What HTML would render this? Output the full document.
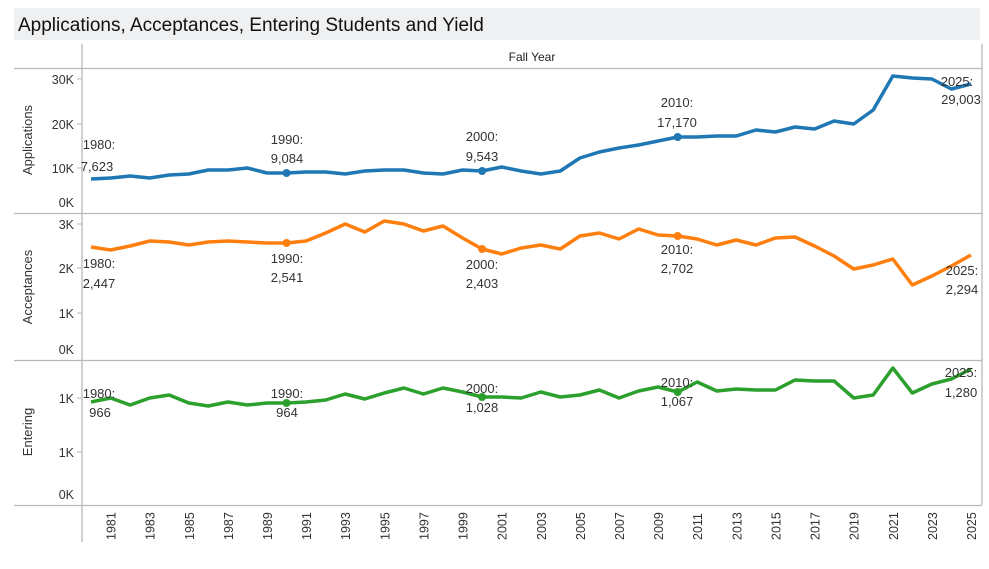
<!DOCTYPE html>
<html><head><meta charset="utf-8"><style>
body{margin:0;background:#fff;font-family:"Liberation Sans",sans-serif}
</style></head><body>
<svg id="s" width="989" height="564" xmlns="http://www.w3.org/2000/svg" font-family="Liberation Sans, sans-serif">
<rect x="14" y="8" width="966" height="32" fill="#eef0f2"/>
<text x="18" y="31" font-size="19" fill="#111">Applications, Acceptances, Entering Students and Yield</text>
<text x="532" y="61" font-size="12" fill="#222" text-anchor="middle">Fall Year</text>
<g stroke="#b8b8b8" stroke-width="1.3" fill="none">
<line x1="82" y1="44" x2="82" y2="542"/>
<line x1="982" y1="44" x2="982" y2="505"/>
<line x1="14" y1="68.5" x2="982" y2="68.5"/>
<line x1="14" y1="213.5" x2="982" y2="213.5"/>
<line x1="14" y1="360.5" x2="982" y2="360.5"/>
<line x1="14" y1="505.5" x2="982" y2="505.5"/>
</g>
<g font-size="12.5" fill="#333" text-anchor="end">
<text x="74" y="84">30K</text><text x="74" y="129">20K</text><text x="74" y="173">10K</text><text x="74" y="207">0K</text>
<text x="74" y="229">3K</text><text x="74" y="273">2K</text><text x="74" y="318">1K</text><text x="74" y="354">0K</text>
<text x="74" y="403">1K</text><text x="74" y="457">1K</text><text x="74" y="499">0K</text>
</g>
<g stroke="#b8b8b8" stroke-width="1">
<line x1="77" y1="79" x2="82" y2="79"/><line x1="77" y1="124" x2="82" y2="124"/><line x1="77" y1="168" x2="82" y2="168"/>
<line x1="77" y1="224" x2="82" y2="224"/><line x1="77" y1="268" x2="82" y2="268"/><line x1="77" y1="313" x2="82" y2="313"/>
<line x1="77" y1="398" x2="82" y2="398"/><line x1="77" y1="452" x2="82" y2="452"/>
</g>
<g font-size="13" fill="#333" text-anchor="middle">
<text transform="translate(32,140) rotate(-90)">Applications</text>
<text transform="translate(32,287) rotate(-90)">Acceptances</text>
<text transform="translate(32,432) rotate(-90)">Entering</text>
</g>
<g id="series"></g>
<g id="xt" font-size="12.5" fill="#333"></g>
<g font-size="13" fill="#333" text-anchor="middle">
<text x="99" y="149">1980:</text><text x="97" y="171">7,623</text>
<text x="287" y="144">1990:</text><text x="287" y="163">9,084</text>
<text x="482" y="141">2000:</text><text x="482" y="161">9,543</text>
<text x="677" y="107">2010:</text><text x="677" y="127">17,170</text>
<text x="957" y="86">2025:</text><text x="961" y="104">29,003</text>
<text x="99" y="268">1980:</text><text x="99" y="288">2,447</text>
<text x="287" y="263">1990:</text><text x="287" y="282">2,541</text>
<text x="482" y="269">2000:</text><text x="482" y="288">2,403</text>
<text x="677" y="254">2010:</text><text x="677" y="273">2,702</text>
<text x="962" y="275">2025:</text><text x="962" y="294">2,294</text>
<text x="99" y="398">1980:</text><text x="100" y="417">966</text>
<text x="287" y="398">1990:</text><text x="287" y="417">964</text>
<text x="482" y="393">2000:</text><text x="482" y="412">1,028</text>
<text x="677" y="387">2010:</text><text x="677" y="406">1,067</text>
<text x="961" y="377">2025:</text><text x="961" y="397">1,280</text>
</g>
</svg>
<script>
const A=[179,178,176,178,175,174,170,170,168,173,173,172,172,174,171,170,170,173,174,170,171,167,171,174,171,158,152,148,145,141,137,137,136,136,130,132,127,129,121,124,110,76,78,79,89,84];
const B=[247,250,246,241,242,245,242,241,242,243,243,241,233,224,232,221,224,231,226,238,249,254,248,245,249,236,233,239,229,235,236,239,245,240,245,238,237,246,256,269,265,259,285,276,266,255];
const C=[402,398,405,398,395,403,406,402,405,403,403,402,400,394,399,393,388,394,388,392,397,397,398,392,397,395,390,398,391,387,392,382,391,389,390,390,380,381,381,398,395,368,393,384,379,369];
const X=i=>91+i*880/45;
const ns="http://www.w3.org/2000/svg";
const g=document.getElementById('series');
[[A,'#1f77b4'],[B,'#ff7f0e'],[C,'#2ca02c']].forEach(([d,c])=>{
 const p=document.createElementNS(ns,'polyline');
 p.setAttribute('points',d.map((y,i)=>X(i).toFixed(1)+','+y).join(' '));
 p.setAttribute('fill','none');p.setAttribute('stroke',c);p.setAttribute('stroke-width','3.5');p.setAttribute('stroke-linejoin','round');
 g.appendChild(p);
 [10,20,30].forEach(i=>{const k=document.createElementNS(ns,'circle');k.setAttribute('cx',X(i));k.setAttribute('cy',d[i]);k.setAttribute('r','4');k.setAttribute('fill',c);g.appendChild(k);});
});
const xt=document.getElementById('xt');
for(let i=1;i<=45;i+=2){
 const t=document.createElementNS(ns,'text');
 t.setAttribute('transform','translate('+(X(i)+5)+',540) rotate(-90)');
 t.textContent=1980+i;xt.appendChild(t);
}
</script>
</body></html>
